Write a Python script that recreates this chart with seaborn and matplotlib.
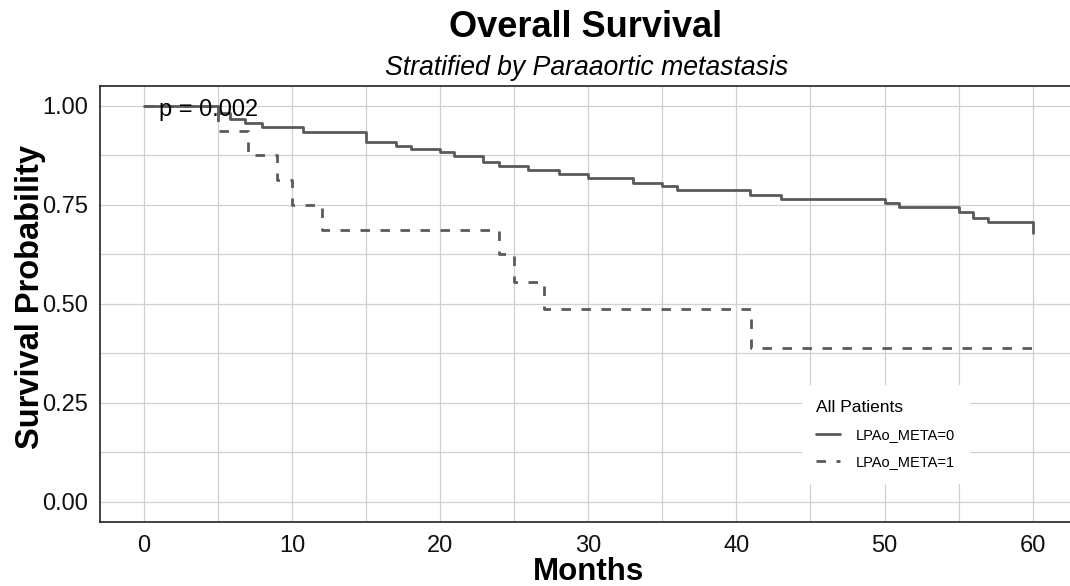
import pandas as pd
import matplotlib
matplotlib.use("Agg")
import matplotlib.pyplot as plt
from matplotlib.ticker import MultipleLocator
import seaborn as sns

# Kaplan-Meier steps (months, survival probability)
time_meta0 = [0, 5, 5.8, 6.8, 8, 10.75, 15, 17, 18, 20, 20.9, 22.9, 24, 25.9, 28,
              30, 33, 35, 36, 40.9, 43, 50, 51, 55, 56, 57, 60]
surv_meta0 = [1.0, 0.983, 0.967, 0.958, 0.948, 0.935, 0.908, 0.9, 0.891, 0.883, 0.874,
              0.858, 0.847, 0.837, 0.828, 0.818, 0.806, 0.797, 0.788, 0.776, 0.766,
              0.755, 0.744, 0.731, 0.718, 0.707, 0.679]
time_meta1 = [0, 5, 7, 9, 10, 12, 24, 25, 27, 41, 60]
surv_meta1 = [1.0, 0.9375, 0.875, 0.8125, 0.75, 0.6875, 0.625, 0.556, 0.486, 0.389, 0.389]
groups = ["LPAo_META=0", "LPAo_META=1"]
x_ticks = [0, 10, 20, 30, 40, 50, 60]
y_ticks = [0.0, 0.25, 0.5, 0.75, 1.0]
p_label = "p = 0.002"

df = pd.concat([
    pd.DataFrame({"time": time_meta0, "surv": surv_meta0, "group": groups[0]}),
    pd.DataFrame({"time": time_meta1, "surv": surv_meta1, "group": groups[1]}),
])

sns.set_style("whitegrid")
plt.rcParams["font.family"] = ["Liberation Sans", "DejaVu Sans"]
plt.rcParams["text.color"] = "black"
plt.rcParams["axes.labelcolor"] = "black"

fig = plt.figure(figsize=(10.7, 5.86), dpi=100)
ax = fig.add_axes([0.093, 0.110, 0.9136, 0.743])

line_col = "#5a5a5a"
sns.lineplot(data=df, x="time", y="surv", hue="group", style="group",
             palette={g: line_col for g in groups},
             dashes={groups[0]: "", groups[1]: (3.4, 3.8)},
             drawstyle="steps-post", estimator=None, linewidth=2.0, ax=ax)

ax.set_xlim(-3, 63)
ax.set_ylim(-0.05, 1.05)
ax.set_xticks(x_ticks)
ax.set_yticks(y_ticks)
ax.set_yticklabels([f"{v:.2f}" for v in y_ticks])
ax.xaxis.set_minor_locator(MultipleLocator(5))
ax.yaxis.set_minor_locator(MultipleLocator(0.125))
ax.grid(which="both", color="#d0d0d0", linewidth=0.9)
ax.tick_params(which="major", length=4, width=1, color="#333333",
               labelsize=17, labelcolor="#111111", pad=4)
ax.tick_params(which="minor", length=0)
ax.tick_params(axis="x", pad=6)
for side in ["left", "bottom", "top", "right"]:
    ax.spines[side].set_color("#222222")
    ax.spines[side].set_linewidth(1.2)

ax.set_xlabel("Months", fontsize=22.5, fontweight="bold", va="center")
ax.xaxis.set_label_coords(0.5, -0.116)
ax.set_ylabel("Survival Probability", fontsize=23.5, fontweight="bold", va="center")
ax.yaxis.set_label_coords(-0.071, 0.515)

ax.text(1, 0.99, p_label, fontsize=17, ha="left", va="center", color="black")

handles, labels = ax.get_legend_handles_labels()
leg = ax.legend(handles, labels, title="All Patients", loc="upper left",
                bbox_to_anchor=(0.711, 0.33), fontsize=10.5, title_fontsize=12.5,
                frameon=True, facecolor="white", edgecolor="none", framealpha=1,
                handlelength=1.6, handletextpad=1.1, labelspacing=0.9,
                borderpad=1.0, alignment="left")

fig.text(586 / 1070, 0.937, "Overall Survival", fontsize=26, fontweight="bold",
         ha="center", va="baseline")
fig.text(587 / 1070, 0.872, "Stratified by Paraaortic metastasis", fontsize=19.2,
         style="italic", ha="center", va="baseline")

fig.savefig("out.png", dpi=100)
